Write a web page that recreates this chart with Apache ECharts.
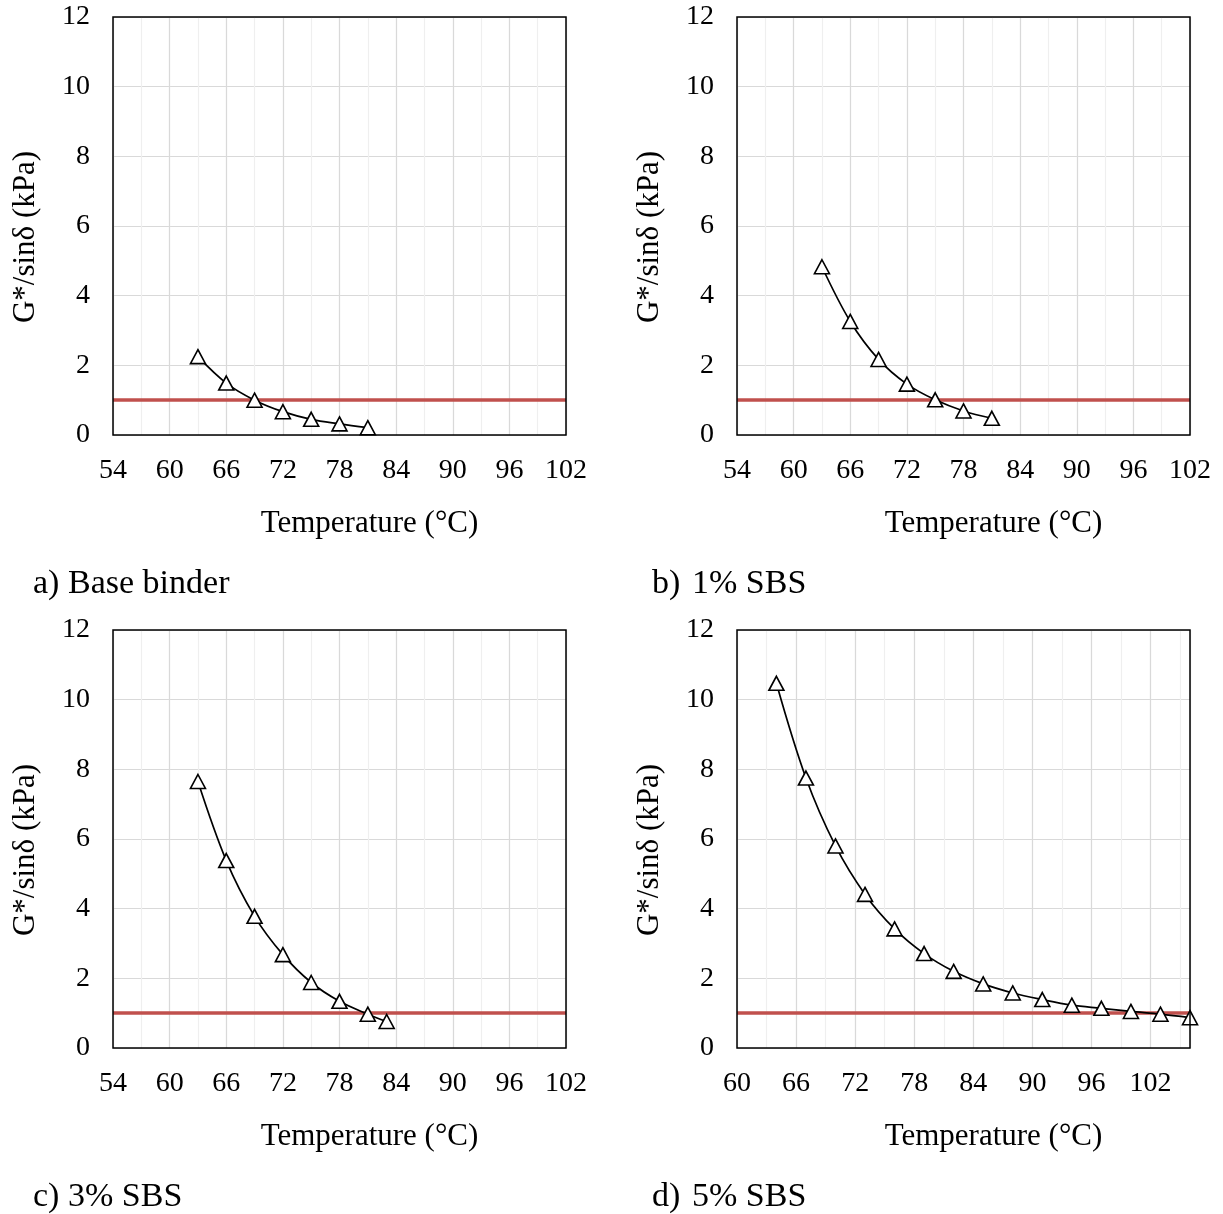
<!DOCTYPE html>
<html><head><meta charset="utf-8">
<script src="https://cdn.jsdelivr.net/npm/echarts@6/dist/echarts.min.js"></script>
<style>html,body{margin:0;padding:0;background:#fff}#c{width:1223px;height:1214px}</style>
</head><body><div id="c"></div>
<script>
// ---- data ----
const tempA = [63, 66, 69, 72, 75, 78, 81];
const valA  = [2.25, 1.49, 1.00, 0.67, 0.45, 0.32, 0.21];
const tempB = [63, 66, 69, 72, 75, 78, 81];
const valB  = [4.83, 3.26, 2.17, 1.46, 1.01, 0.69, 0.48];
const tempC = [63, 66, 69, 72, 75, 78, 81, 83];
const valC  = [7.65, 5.38, 3.78, 2.68, 1.88, 1.34, 0.97, 0.76];
const tempD = [64, 67, 70, 73, 76, 79, 82, 85, 88, 91, 94, 97, 100, 103, 106];
const valD  = [10.47, 7.75, 5.80, 4.41, 3.42, 2.71, 2.20, 1.84, 1.58, 1.39, 1.23, 1.14, 1.05, 0.97, 0.87];
const threshold = 1;
const xRangeABC = [54, 102];
const xRangeD = [60, 106];
const xMajor = 6, xMinor = 3;
const yRange = [0, 12];
const yStep = 2;
const captions = [['a)', 'Base binder'], ['b)', '1% SBS'], ['c)', '3% SBS'], ['d)', '5% SBS']];
const xName = 'Temperature (°C)';
const yName = 'G*/sinδ (kPa)';

// ---- layout ----
const FONT = '"Liberation Serif", "Times New Roman", serif';
const grids = [
  {left: 113, top: 17, width: 453, height: 418},
  {left: 737, top: 17, width: 453, height: 418},
  {left: 113, top: 630, width: 453, height: 418},
  {left: 737, top: 630, width: 453, height: 418}
];
const panels = [
  {t: tempA, v: valA, r: xRangeABC},
  {t: tempB, v: valB, r: xRangeABC},
  {t: tempC, v: valC, r: xRangeABC},
  {t: tempD, v: valD, r: xRangeD}
];

const xAxis = [], yAxis = [], series = [], graphic = [];
panels.forEach((p, i) => {
  // minor grid axis (drawn first)
  xAxis.push({
    type: 'value', gridIndex: i, position: 'bottom', min: p.r[0], max: p.r[1], interval: xMinor, z: 0,
    axisLine: {show: false}, axisTick: {show: false}, axisLabel: {show: false},
    splitLine: {show: true, lineStyle: {color: '#efefef', width: 1.2}}
  });
  // main axis
  xAxis.push({
    type: 'value', gridIndex: i, position: 'bottom', min: p.r[0], max: p.r[1], interval: xMajor, z: 1,
    name: xName, nameLocation: 'middle', nameGap: 73,
    nameTextStyle: {fontFamily: FONT, fontSize: 31, color: '#000', padding: [0, 0, 0, 60]},
    axisLine: {show: false}, axisTick: {show: false},
    axisLabel: {fontFamily: FONT, fontSize: 28, color: '#000', margin: 22, showMaxLabel: (p.r[1] % xMajor === 0)},
    splitLine: {show: true, lineStyle: {color: '#d9d9d9', width: 1.2}}
  });
  yAxis.push({
    type: 'value', gridIndex: i, position: 'left', min: yRange[0], max: yRange[1], interval: yStep,
    name: yName, nameLocation: 'middle', nameGap: 72,
    nameTextStyle: {fontFamily: FONT, fontSize: 31, color: '#000', padding: [0, 22, 0, 0]},
    axisLine: {show: false}, axisTick: {show: false},
    axisLabel: {fontFamily: FONT, fontSize: 28, color: '#000', margin: 23},
    splitLine: {show: true, lineStyle: {color: '#d9d9d9', width: 1.2}}
  });
  series.push({
    type: 'line', xAxisIndex: 2 * i + 1, yAxisIndex: i, z: 3,
    data: p.t.map((t, k) => [t, p.v[k]]),
    smooth: 0.35,
    symbol: 'triangle', symbolSize: [15, 14],
    itemStyle: {color: '#fff', borderColor: '#000', borderWidth: 1.6},
    lineStyle: {color: '#000', width: 1.7},
    markLine: {
      silent: true, symbol: 'none', label: {show: false}, z: 2,
      lineStyle: {color: '#c0504d', width: 3.5, type: 'solid'},
      data: [{yAxis: threshold}]
    }
  });
  const g = grids[i];
  const capY = g.top + g.height + 149;
  const left = i % 2 === 0;
  const capX = left ? 33 : 652;
  const textX = left ? 68 : 692;
  graphic.push({type: 'text', x: capX, y: capY,
    style: {text: captions[i][0], font: '34px ' + FONT, fill: '#000', textVerticalAlign: 'middle', verticalAlign: 'middle'}});
  graphic.push({type: 'text', x: textX, y: capY,
    style: {text: captions[i][1], font: '34px ' + FONT, fill: '#000', textVerticalAlign: 'middle', verticalAlign: 'middle'}});
});

const chart = echarts.init(document.getElementById('c'), null, {renderer: 'canvas'});
chart.setOption({
  backgroundColor: '#fff',
  animation: false,
  grid: grids.map(g => Object.assign({show: true, borderColor: '#000', borderWidth: 1.5, backgroundColor: 'transparent', z: 4, containLabel: false, outerBoundsMode: 'none'}, g)),
  xAxis, yAxis, series, graphic
});
</script>
</body></html>
